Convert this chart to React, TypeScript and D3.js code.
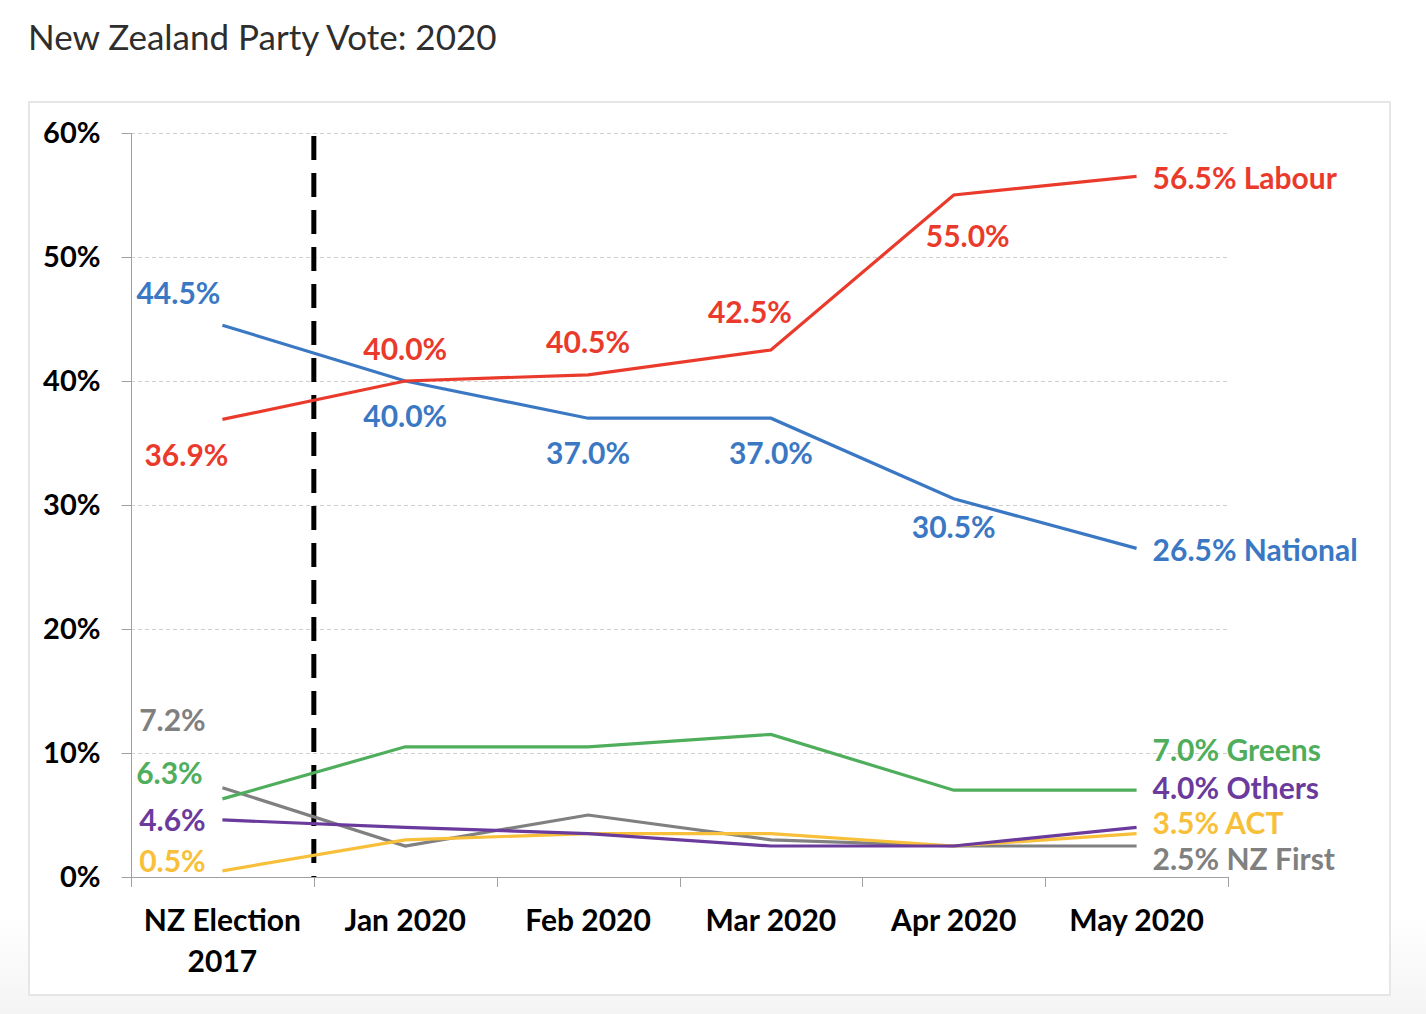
import React, { useEffect, useRef } from 'react';
import * as d3 from 'd3';

const categories = ['NZ Election|2017', 'Jan 2020', 'Feb 2020', 'Mar 2020', 'Apr 2020', 'May 2020'];
const labour = [36.9, 40.0, 40.5, 42.5, 55.0, 56.5];
const national = [44.5, 40.0, 37.0, 37.0, 30.5, 26.5];
const greens = [6.3, 10.5, 10.5, 11.5, 7.0, 7.0];
const others = [4.6, 4.0, 3.5, 2.5, 2.5, 4.0];
const act = [0.5, 3.0, 3.5, 3.5, 2.5, 3.5];
const nzFirst = [7.2, 2.5, 5.0, 3.0, 2.5, 2.5];
const yTicks = [0, 10, 20, 30, 40, 50, 60];

type Series = {
  name: string;
  values: number[];
  color: string;
  // which points get a value label, with offsets from the point
  labels: { i: number; dx: number; dy: number }[];
  end: number; // vertical offset of the end label
};

const series: Series[] = [
  { name: 'NZ First', values: nzFirst, color: '#808080', labels: [{ i: 0, dx: -50, dy: -67 }], end: 13 },
  { name: 'ACT', values: act, color: '#f8bf3a', labels: [{ i: 0, dx: -50, dy: -9 }], end: -10 },
  { name: 'Others', values: others, color: '#6a3a9c', labels: [{ i: 0, dx: -50, dy: 1 }], end: -39 },
  { name: 'Greens', values: greens, color: '#4fae5c', labels: [{ i: 0, dx: -53, dy: -25 }], end: -40 },
  {
    name: 'National',
    values: national,
    color: '#3b78c4',
    labels: [
      { i: 0, dx: -44, dy: -32 },
      { i: 1, dx: 0, dy: 35 },
      { i: 2, dx: 0, dy: 35 },
      { i: 3, dx: 0, dy: 35 },
      { i: 4, dx: 0, dy: 29 },
    ],
    end: 2,
  },
  {
    name: 'Labour',
    values: labour,
    color: '#ea3a2c',
    labels: [
      { i: 0, dx: -36, dy: 36 },
      { i: 1, dx: 0, dy: -32 },
      { i: 2, dx: 0, dy: -32 },
      { i: 3, dx: -21, dy: -38 },
      { i: 4, dx: 14, dy: 41 },
    ],
    end: 2,
  },
];

const W = 1426;
const H = 1014;
const FONT = 'Lato, "Open Sans", sans-serif';

export default function App() {
  const svgRef = useRef<SVGSVGElement | null>(null);

  useEffect(() => {
    document.body.style.margin = '0';
    if (!svgRef.current) return;
    const svg = d3.select(svgRef.current);
    svg.selectAll('*').remove();

    const x = d3.scaleBand().domain(categories).range([131, 1228]).padding(0);
    const y = d3.scaleLinear().domain([0, 60]).range([877, 133]);
    const cx = (i: number) => (x(categories[i]) || 0) + x.bandwidth() / 2;

    // page background: white fading to light grey at the bottom
    const grad = svg
      .append('defs')
      .append('linearGradient')
      .attr('id', 'bg')
      .attr('x1', 0)
      .attr('x2', 0)
      .attr('y1', 0)
      .attr('y2', 1);
    grad.append('stop').attr('offset', '0.9').attr('stop-color', '#ffffff');
    grad.append('stop').attr('offset', '1').attr('stop-color', '#f4f4f4');
    svg.append('rect').attr('width', W).attr('height', H).attr('fill', 'url(#bg)');
    svg
      .append('rect')
      .attr('x', 29)
      .attr('y', 102)
      .attr('width', 1361)
      .attr('height', 893)
      .attr('fill', '#fff')
      .attr('stroke', '#e6e6e6')
      .attr('stroke-width', 2);

    svg
      .append('text')
      .attr('x', 28)
      .attr('y', 50)
      .attr('font-family', FONT)
      .attr('font-size', 35)
      .attr('fill', '#2e2e2e')
      .text('New Zealand Party Vote: 2020');

    // gridlines
    svg
      .append('g')
      .selectAll('line')
      .data(yTicks.filter((t) => t > 0))
      .enter()
      .append('line')
      .attr('x1', 131)
      .attr('x2', 1228)
      .attr('y1', (d) => Math.round(y(d)) + 0.5)
      .attr('y2', (d) => Math.round(y(d)) + 0.5)
      .attr('stroke', '#cfcfcf')
      .attr('stroke-dasharray', '4,3');

    // y axis
    const yAxis = svg
      .append('g')
      .attr('transform', 'translate(131.5,0)')
      .call(d3.axisLeft(y).tickValues(yTicks).tickSize(10).tickFormat((d) => `${d}%`));
    yAxis.select('.domain').attr('stroke', '#a0a0a0').attr('d', `M0,${y(60)}V${y(0)}`);
    yAxis.selectAll('.tick line').attr('stroke', '#a0a0a0');
    yAxis
      .selectAll('.tick text')
      .attr('x', -31)
      .attr('font-family', FONT)
      .attr('font-weight', 'bold')
      .attr('font-size', 29)
      .attr('fill', '#000');

    // x axis
    const xAxis = svg
      .append('g')
      .attr('transform', 'translate(0,877.5)')
      .call(d3.axisBottom(x).tickSize(0).tickFormat(() => ''));
    xAxis.select('.domain').attr('stroke', '#a0a0a0').attr('d', 'M131,0H1228');
    xAxis.selectAll('.tick').remove();
    svg
      .append('g')
      .selectAll('line')
      .data(categories.map((c) => x(c) || 0).concat([1228]))
      .enter()
      .append('line')
      .attr('x1', (d) => Math.round(d) + 0.5)
      .attr('x2', (d) => Math.round(d) + 0.5)
      .attr('y1', 877)
      .attr('y2', 887)
      .attr('stroke', '#a0a0a0');

    const catText = svg
      .append('g')
      .selectAll('text')
      .data(categories)
      .enter()
      .append('text')
      .attr('x', (_, i) => cx(i))
      .attr('y', 931)
      .attr('text-anchor', 'middle')
      .attr('font-family', FONT)
      .attr('font-weight', 'bold')
      .attr('font-size', 30)
      .attr('fill', '#000');
    catText.each(function (d) {
      const parts = d.split('|');
      d3.select(this)
        .selectAll('tspan')
        .data(parts)
        .enter()
        .append('tspan')
        .attr('x', d3.select(this).attr('x'))
        .attr('dy', (_, j) => (j === 0 ? 0 : 41))
        .text((p) => p);
    });

    // election divider
    const divX = x(categories[1]) || 0;
    svg
      .append('line')
      .attr('x1', divX)
      .attr('x2', divX)
      .attr('y1', 136)
      .attr('y2', 877)
      .attr('stroke', '#000')
      .attr('stroke-width', 5)
      .attr('stroke-dasharray', '24,13');

    const line = d3
      .line<number>()
      .x((_, i) => cx(i))
      .y((d) => y(d));

    series.forEach((s) => {
      svg
        .append('path')
        .datum(s.values)
        .attr('d', line)
        .attr('fill', 'none')
        .attr('stroke', s.color)
        .attr('stroke-width', 3.2);
    });

    series.forEach((s) => {
      s.labels.forEach((l) => {
        svg
          .append('text')
          .attr('x', cx(l.i) + l.dx)
          .attr('y', y(s.values[l.i]) + l.dy)
          .attr('dy', '0.35em')
          .attr('text-anchor', 'middle')
          .attr('font-family', FONT)
          .attr('font-weight', 'bold')
          .attr('font-size', 30)
          .attr('fill', s.color)
          .text(`${s.values[l.i].toFixed(1)}%`);
      });
      const last = s.values.length - 1;
      svg
        .append('text')
        .attr('x', cx(last) + 16)
        .attr('y', y(s.values[last]) + s.end)
        .attr('dy', '0.35em')
        .attr('font-family', FONT)
        .attr('font-weight', 'bold')
        .attr('font-size', 30)
        .attr('fill', s.color)
        .text(`${s.values[last].toFixed(1)}% ${s.name}`);
    });
  }, []);

  return <svg ref={svgRef} width={W} height={H} style={{ display: 'block' }} />;
}
